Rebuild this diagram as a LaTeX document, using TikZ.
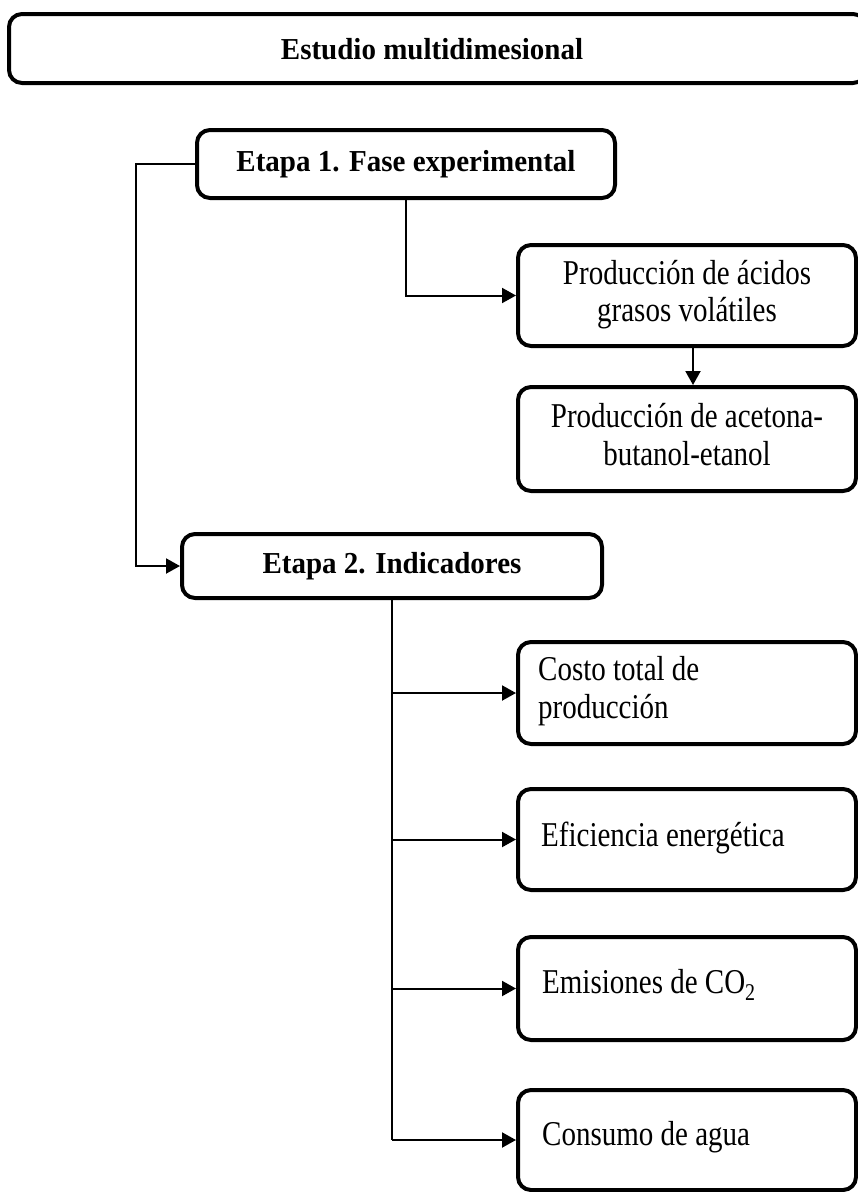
\documentclass[tikz,border=0pt]{standalone}
\usepackage{fontspec}
\usepackage{graphicx}
\setmainfont{Liberation Serif}
\usetikzlibrary{arrows.meta}
\newcommand{\vstr}[1]{\scalebox{1}[1.2]{\begin{tabular}{@{}c@{}}#1\end{tabular}}}
\newcommand{\vstl}[1]{\scalebox{1}[1.2]{\begin{tabular}{@{}l@{}}#1\end{tabular}}}
\newcommand{\vsb}[1]{\scalebox{1}[1.05]{#1}}
\begin{document}
\begin{tikzpicture}[x=1pt,y=-1pt,
  box/.style={draw=black,line width=4pt,rounded corners=13pt,inner sep=0pt,
    font=\fontsize{29}{31}\selectfont},
  bbox/.style={box,font=\fontsize{29}{31}\selectfont\bfseries},
  txt/.style={anchor=west,inner sep=0pt,font=\fontsize{29}{31}\selectfont},
  arr/.style={draw=black,line width=2pt,-{Triangle[length=14pt,width=15pt]}},
  ln/.style={draw=black,line width=2pt}]
\clip (0,0) rectangle (858,1192);
\fill[white] (0,0) rectangle (858,1192);
\node[bbox,minimum width=857pt,minimum height=69pt] (top) at (437.5,48.5) {};
\node[font=\fontsize{29}{31}\selectfont\bfseries] (toptext) at (432,49) {\vsb{Estudio multidimesional}};
\node[bbox,minimum width=418pt,minimum height=68pt] (e1) at (406,164) {\vsb{Etapa 1. Fase experimental}};
\node[box,minimum width=338pt,minimum height=101pt] (pa) at (687,295.5) {\raisebox{-3pt}{\vstr{Producción de ácidos\\grasos volátiles}}};
\node[box,minimum width=338pt,minimum height=104pt] (ac) at (687,439) {\vstr{Producción de acetona-\\butanol-etanol}};
\node[bbox,minimum width=420pt,minimum height=64pt] (e2) at (392,566) {\vsb{Etapa 2. Indicadores}};
\node[box,minimum width=338pt,minimum height=102pt] (co) at (687,693) {};
\node[box,minimum width=338pt,minimum height=101pt] (ef) at (687,839.5) {};
\node[box,minimum width=338pt,minimum height=103pt] (em) at (687,988.5) {};
\node[box,minimum width=338pt,minimum height=100pt] (cm) at (687,1140) {};
\node[txt] (cot) at (538,692) {\vstl{Costo total de\\producción}};
\node[txt] (eft) at (541,839) {\vstl{Eficiencia energética}};
\node[txt] (emt) at (542,986) {\vstl{Emisiones de CO\raisebox{-0.45ex}{\fontsize{20}{20}\selectfont 2}}};
\node[txt] (cmt) at (542,1138) {\vstl{Consumo de agua}};
\coordinate (c1) at (136,164);
\draw[arr] (e1.west) -- (c1) |- (e2.west);
\draw[arr] (e1.south) |- (pa.west);
\draw[arr] ([xshift=6pt]pa.south) -- ([xshift=6pt]ac.north);
\coordinate (c2) at (e2.south |- cm.west);
\draw[ln] (e2.south) -- (c2);
\draw[arr] (e2.south |- co.west) -- (co.west);
\draw[arr] (e2.south |- ef.west) -- (ef.west);
\draw[arr] (e2.south |- em.west) -- (em.west);
\draw[arr] (c2) -- (cm.west);
\end{tikzpicture}
\end{document}
